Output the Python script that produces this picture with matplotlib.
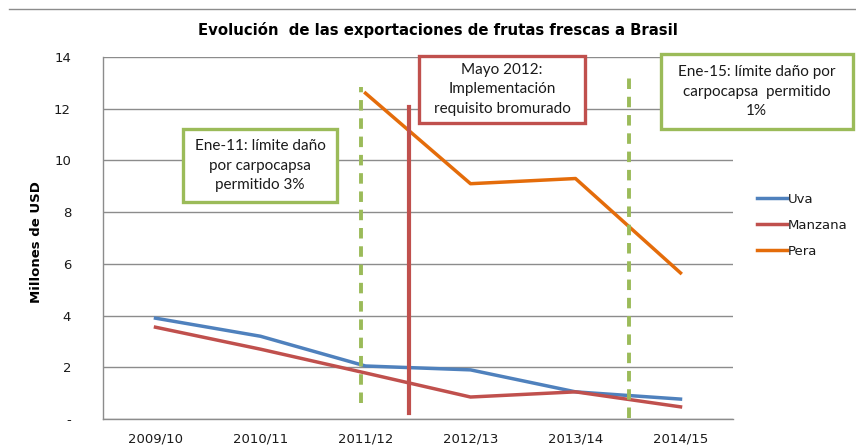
import matplotlib
matplotlib.use('Agg')
import matplotlib.pyplot as plt
from matplotlib.lines import Line2D
from matplotlib.patches import Rectangle

# Data (millones de USD)
campanas = ['2009/10', '2010/11', '2011/12', '2012/13', '2013/14', '2014/15']
uva = [3.9, 3.2, 2.05, 1.9, 1.05, 0.77]
manzana = [3.55, 2.7, 1.78, 0.85, 1.05, 0.47]
pera = [None, None, 12.6, 9.1, 9.3, 5.65]

y_ticks = [0, 2, 4, 6, 8, 10, 12, 14]
y_tick_labels = ['-', '2', '4', '6', '8', '10', '12', '14']

BLUE = '#4F81BD'
RED = '#C0504D'
ORANGE = '#E46C0A'
GREEN = '#9BBB59'
GRID = '#8C8C8C'
BOX_FONT = ['Lato', 'DejaVu Sans']


def main():
	fig = plt.figure(figsize=(8.56, 4.46), dpi=100)
	ax = fig.add_axes([103 / 856, 1 - 419 / 446, 630 / 856, 362 / 446])

	x = list(range(len(campanas)))
	ax.plot(x, uva, color=BLUE, lw=2.5, label='Uva', zorder=3)
	ax.plot(x, manzana, color=RED, lw=2.5, label='Manzana', zorder=3)
	xp = [i for i, v in zip(x, pera) if v is not None]
	yp = [v for v in pera if v is not None]
	ax.plot(xp, yp, color=ORANGE, lw=2.5, label='Pera', zorder=3)

	# regulatory events
	ax.plot([1.96, 1.96], [0.6, 12.85], color=GREEN, lw=2.8,
		dashes=(2.7, 2.0), zorder=4)
	ax.plot([2.41, 2.41], [0.25, 12.05], color=RED, lw=3, zorder=4)
	ax.plot([4.51, 4.51], [0.05, 13.4], color=GREEN, lw=2.8,
		dashes=(2.7, 2.0), zorder=4)

	ax.set_xlim(-0.5, 5.5)
	ax.set_ylim(0, 14)
	ax.set_xticks(x)
	ax.set_xticklabels(campanas, fontsize=9.5, color='#1a1a1a')
	ax.set_yticks(y_ticks)
	ax.set_yticklabels(y_tick_labels, fontsize=9.5, color='#1a1a1a')
	ax.tick_params(length=0, pad=10)
	ax.tick_params(axis='y', pad=23)
	ax.yaxis.grid(True, color=GRID, lw=1)
	ax.set_axisbelow(True)
	for s in ['top', 'right']:
		ax.spines[s].set_visible(False)
	for s in ['left', 'bottom']:
		ax.spines[s].set_color(GRID)
		ax.spines[s].set_linewidth(1)
	ax.set_ylabel('Millones de USD', fontsize=9.5, fontweight='bold')
	ax.yaxis.set_label_coords(-0.095, 0.49)

	# annotation boxes (x in category units, y in data units)
	boxes = [
		(0.26, 8.4, 1.47, 2.8, GREEN,
			'Ene-11: límite daño\npor carpocapsa\npermitido 3%'),
		(2.51, 11.45, 1.58, 2.6, RED,
			'Mayo 2012:\nImplementación\nrequisito bromurado'),
		(4.81, 11.2, 1.83, 2.9, GREEN,
			'Ene-15: límite daño por\ncarpocapsa  permitido\n1%'),
	]
	for bx, by, bw, bh, col, txt in boxes:
		ax.add_patch(Rectangle((bx, by), bw, bh, facecolor='white',
			edgecolor=col, lw=2.4, zorder=6, clip_on=False))
		ax.text(bx + bw / 2, by + bh / 2, txt, ha='center', va='center',
			fontsize=11, family=BOX_FONT, color='#1a1a1a',
			linespacing=1.5, zorder=7, clip_on=False)

	leg = ax.legend(loc='center left', bbox_to_anchor=(1.02, 0.535),
		frameon=False, fontsize=9.5, handlelength=2.2, handletextpad=0.1,
		labelspacing=1.0)
	for t in leg.get_texts():
		t.set_color('#1a1a1a')

	fig.text(438 / 856, 1 - 30 / 446, 'Evolución  de las exportaciones de frutas frescas a Brasil',
		ha='center', va='center', fontsize=10.7, fontweight='bold')
	fig.add_artist(Line2D([9 / 856, 1], [1 - 9 / 446, 1 - 9 / 446],
		color='#8C8C8C', lw=1))

	fig.savefig('out.png', dpi=100)


if __name__ == '__main__':
	main()
